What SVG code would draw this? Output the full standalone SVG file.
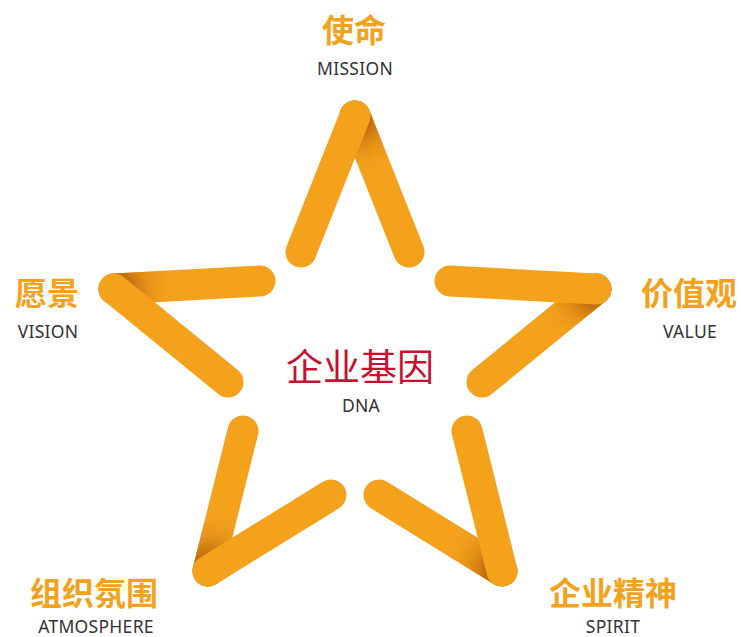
<svg xmlns="http://www.w3.org/2000/svg" width="741" height="637" viewBox="0 0 741 637">
<style>
.arm{fill:none;stroke:#F4A21C;stroke-width:31;stroke-linecap:round}
.shade{fill:none;stroke:url(#sh);stroke-width:31;stroke-linecap:round}
.cn{font-family:"Noto Sans CJK SC","Noto Sans",sans-serif;font-weight:bold;font-size:32px;fill:#F4A21C;text-anchor:middle}
.en{font-family:"Noto Sans","Liberation Sans",sans-serif;font-size:17.5px;fill:#333;text-anchor:middle;letter-spacing:0.3px}
.dna{font-family:"Noto Sans CJK SC","Noto Sans",sans-serif;font-size:37px;fill:#C8102E;text-anchor:middle}
</style>
<defs>
<radialGradient id="sh" gradientUnits="userSpaceOnUse" cx="0" cy="0" r="62">
<stop offset="0.25" stop-color="#B5620A" stop-opacity="0.85"/>
<stop offset="0.55" stop-color="#C8730F" stop-opacity="0.35"/>
<stop offset="1" stop-color="#F4A21C" stop-opacity="0"/>
</radialGradient>
</defs>
<rect width="741" height="637" fill="#fff"/>
<g id="star">
<g id="v-mission" transform="translate(355,116)">
<line class="arm" x1="0" y1="0" x2="54" y2="136"/>
<line class="shade" x1="0" y1="0" x2="54" y2="136"/>
<line class="arm" x1="0" y1="0" x2="-54" y2="136"/>
</g>
<g id="v-vision" transform="translate(114,289)">
<line class="arm" x1="0" y1="0" x2="146" y2="-8"/>
<line class="shade" x1="0" y1="0" x2="146" y2="-8"/>
<line class="arm" x1="0" y1="0" x2="114" y2="93"/>
</g>
<g id="v-value" transform="translate(596,289)">
<line class="arm" x1="0" y1="0" x2="-114" y2="93"/>
<line class="shade" x1="0" y1="0" x2="-114" y2="93"/>
<line class="arm" x1="0" y1="0" x2="-146" y2="-8"/>
</g>
<g id="v-atmosphere" transform="translate(208,571)">
<line class="arm" x1="0" y1="0" x2="35" y2="-140"/>
<line class="shade" x1="0" y1="0" x2="35" y2="-140"/>
<line class="arm" x1="0" y1="0" x2="123" y2="-76"/>
</g>
<g id="v-spirit" transform="translate(502,571)">
<line class="arm" x1="0" y1="0" x2="-123" y2="-76"/>
<line class="shade" x1="0" y1="0" x2="-123" y2="-76"/>
<line class="arm" x1="0" y1="0" x2="-35" y2="-140"/>
</g>
</g>
<g id="connectors"/>
<g id="n-mission"><text class="cn" x="354" y="42">使命</text><text class="en" x="355" y="75">MISSION</text></g>
<g id="n-vision"><text class="cn" x="47" y="305">愿景</text><text class="en" x="48" y="338">VISION</text></g>
<g id="n-value"><text class="cn" x="689" y="305">价值观</text><text class="en" x="690" y="338">VALUE</text></g>
<g id="n-dna"><text class="dna" x="360" y="381">企业基因</text><text class="en" x="361" y="412">DNA</text></g>
<g id="n-atmosphere"><text class="cn" x="94" y="605">组织氛围</text><text class="en" x="96" y="633">ATMOSPHERE</text></g>
<g id="n-spirit"><text class="cn" x="613" y="605">企业精神</text><text class="en" x="613" y="633">SPIRIT</text></g>
</svg>
